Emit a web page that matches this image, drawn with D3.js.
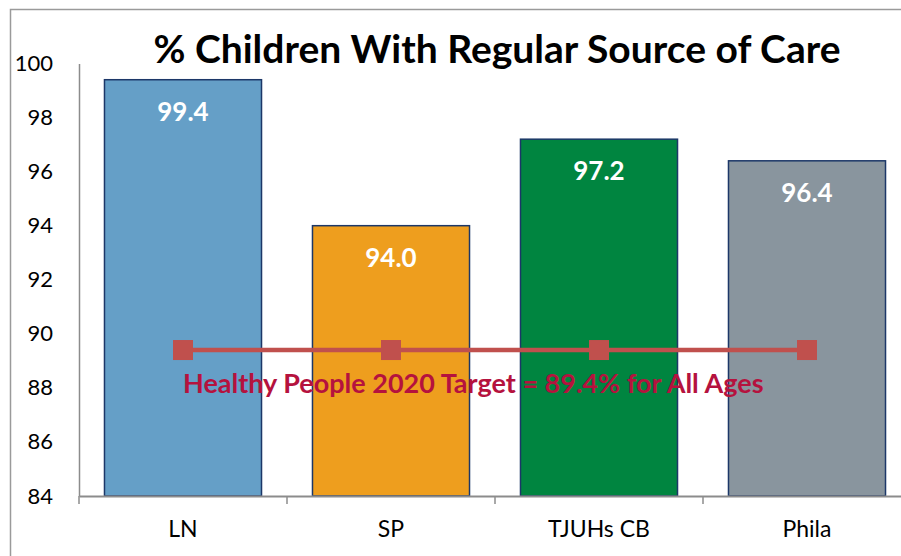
<!DOCTYPE html>
<html>
<head>
<meta charset="utf-8">
<script src="https://cdn.jsdelivr.net/npm/d3@7"></script>
<style>
  body { margin: 0; background: #fff; }
  svg { display: block; font-family: Lato, "Open Sans", sans-serif; }
</style>
</head>
<body>
<script>
// data
const categories = ["LN", "SP", "TJUHs CB", "Phila"]
const values = [99.4, 94.0, 97.2, 96.4]
const barColors = ["#659fc7", "#ee9e1e", "#008540", "#89959e"]
const targetValue = 89.4
const yTicks = [84, 86, 88, 90, 92, 94, 96, 98, 100]

const width = 901
const height = 556

const svg = d3.select('body')
    .append('svg')
        .attr('width', width)
        .attr('height', height)

// outer chart border (cut off on right/bottom)
svg.append('path')
    .attr('d', `M10.5,${height + 5} L10.5,9.5 L${width + 5},9.5`)
    .attr('fill', 'none')
    .attr('stroke', '#9a9a9a')
    .attr('stroke-width', 1.5)

const x = d3.scaleBand()
    .domain(categories)
    .range([79, 911])
    .paddingInner(0.245)
    .paddingOuter(0.1225)

const y = d3.scaleLinear()
    .domain([84, 100])
    .range([496, 63.5])

// title
svg.append('text')
    .attr('x', 497)
    .attr('y', 63)
    .attr('text-anchor', 'middle')
    .attr('font-size', 39)
    .attr('font-weight', 'bold')
    .attr('fill', '#000')
    .text('% Children With Regular Source of Care')

// y axis
const yAxis = svg.append('g')
    .attr('transform', 'translate(79,0)')
    .call(d3.axisLeft(y).tickValues(yTicks).tickSize(0).tickPadding(26))
yAxis.select('.domain').attr('stroke', '#8c8c8c').attr('stroke-width', 1.5)
yAxis.selectAll('text')
    .attr('font-family', 'Lato, sans-serif')
    .attr('font-size', 22)
    .attr('fill', '#000')

// bars
svg.append('g')
    .selectAll('rect')
    .data(values)
    .enter()
        .append('rect')
            .attr('x', (d, i) => x(categories[i]))
            .attr('y', (d) => y(d))
            .attr('width', x.bandwidth())
            .attr('height', (d) => y(84) - y(d))
            .attr('fill', (d, i) => barColors[i])
            .attr('stroke', '#1c3768')
            .attr('stroke-width', 1.5)

// x axis
const xAxis = svg.append('g')
    .attr('transform', 'translate(0,496)')
    .call(d3.axisBottom(x).tickSize(0).tickPadding(25))
xAxis.select('.domain').attr('stroke', '#8c8c8c').attr('stroke-width', 2)
xAxis.selectAll('text')
    .attr('font-family', 'Lato, sans-serif')
    .attr('font-size', 23)
    .attr('fill', '#000')

// tick marks between categories
const step = x.step()
svg.append('g')
    .selectAll('line')
    .data(categories)
    .enter()
        .append('line')
            .attr('x1', (d) => x(d) + x.bandwidth() / 2 - step / 2)
            .attr('x2', (d) => x(d) + x.bandwidth() / 2 - step / 2)
            .attr('y1', 496)
            .attr('y2', 504)
            .attr('stroke', '#8c8c8c')
            .attr('stroke-width', 1.5)

// value labels
svg.append('g')
    .selectAll('text')
    .data(values)
    .enter()
        .append('text')
            .attr('x', (d, i) => x(categories[i]) + x.bandwidth() / 2)
            .attr('y', (d) => y(d) + 41)
            .attr('text-anchor', 'middle')
            .attr('font-size', 26)
            .attr('font-weight', 'bold')
            .attr('fill', '#fff')
            .text((d) => d.toFixed(1))

// target line
const targetLine = d3.line()
    .x((d) => x(d) + x.bandwidth() / 2)
    .y(() => y(targetValue))

svg.append('path')
    .datum(categories)
    .attr('d', targetLine)
    .attr('fill', 'none')
    .attr('stroke', '#c0504d')
    .attr('stroke-width', 4.5)

svg.append('g')
    .selectAll('rect')
    .data(categories)
    .enter()
        .append('rect')
            .attr('x', (d) => x(d) + x.bandwidth() / 2 - 10)
            .attr('y', y(targetValue) - 10)
            .attr('width', 20)
            .attr('height', 20)
            .attr('fill', '#c0504d')

// target annotation
svg.append('text')
    .attr('x', 183)
    .attr('y', 393)
    .attr('font-size', 27)
    .attr('font-weight', 'bold')
    .attr('fill', '#b5123e')
    .text('Healthy People 2020 Target = ' + targetValue + '% for All Ages')
</script>
</body>
</html>
